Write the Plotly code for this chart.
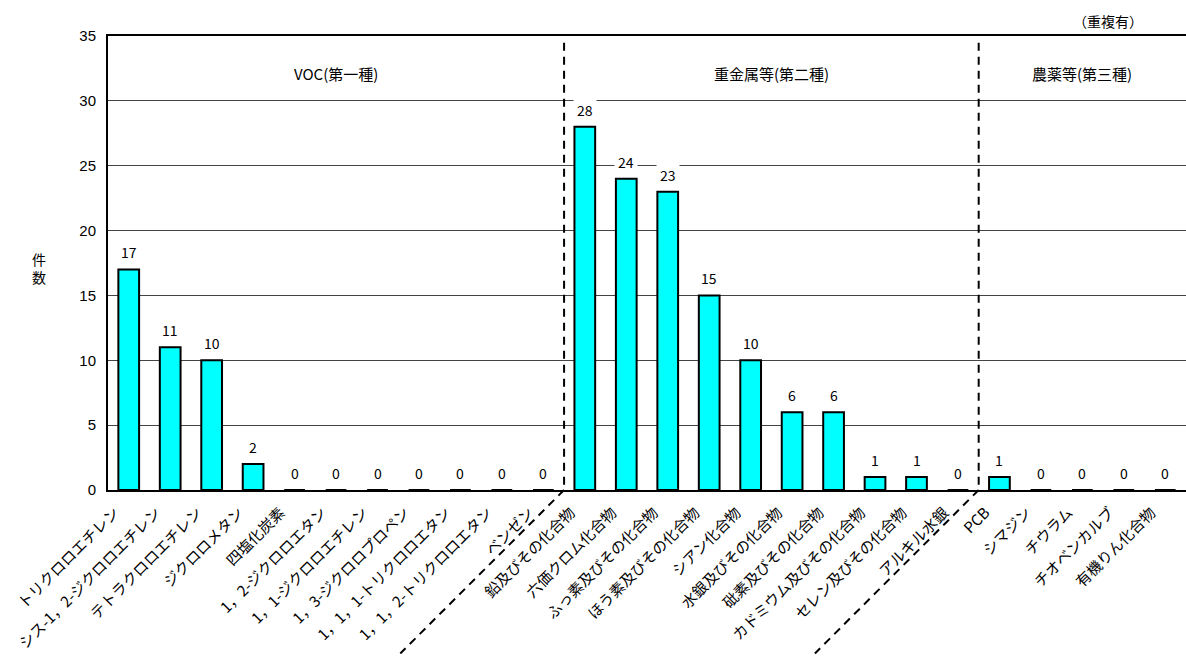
import plotly.graph_objects as go

# Substances by group (counts, duplicates included)
voc_names = ["トリクロロエチレン", "シス-1，2-ジクロロエチレン", "テトラクロロエチレン", "ジクロロメタン",
             "四塩化炭素", "1，2-ジクロロエタン", "1，1-ジクロロエチレン", "1，3-ジクロロプロペン",
             "1，1，1-トリクロロエタン", "1，1，2-トリクロロエタン", "ベンゼン"]
voc_counts = [17, 11, 10, 2, 0, 0, 0, 0, 0, 0, 0]

metal_names = ["鉛及びその化合物", "六価クロム化合物", "ふっ素及びその化合物", "ほう素及びその化合物",
               "シアン化合物", "水銀及びその化合物", "砒素及びその化合物", "カドミウム及びその化合物",
               "セレン及びその化合物", "アルキル水銀"]
metal_counts = [28, 24, 23, 15, 10, 6, 6, 1, 1, 0]

pest_names = ["PCB", "シマジン", "チウラム", "チオベンカルブ", "有機りん化合物"]
pest_counts = [1, 0, 0, 0, 0]

group_titles = ["VOC(第一種)", "重金属等(第二種)", "農薬等(第三種)"]
y_ticks = [0, 5, 10, 15, 20, 25, 30, 35]

names = voc_names + metal_names + pest_names
counts = voc_counts + metal_counts + pest_counts
n = len(names)

FONT = "Noto Sans CJK JP"

fig = go.Figure(go.Bar(
    x=list(range(n)), y=counts, width=0.5,
    marker=dict(color="#00FFFF", line=dict(color="black", width=2)),
    hoverinfo="x+y",
))

# value labels on a white box so they interrupt the gridlines
for i, v in enumerate(counts):
    fig.add_annotation(x=i, y=v, text=str(v), showarrow=False, yanchor="middle",
                       yshift=17, bgcolor="white", borderpad=3,
                       font=dict(family=FONT, size=14, color="black"))

# group separators: dashed verticals continuing diagonally through the labels
sizes = [len(voc_names), len(metal_names), len(pest_names)]
bounds = [sizes[0] - 0.5, sizes[0] + sizes[1] - 0.5]
for b in bounds:
    fig.add_shape(type="line", xref="x", yref="paper", x0=b, x1=b, y0=0.985, y1=0,
                  line=dict(color="black", width=2, dash="8px,6px"))
    fig.add_shape(type="line", xref="x", yref="paper", x0=b, x1=b - 3.95, y0=0, y1=-0.36,
                  line=dict(color="black", width=2, dash="8px,6px"))

# group titles
edges = [-0.5, bounds[0], bounds[1], n - 0.5]
for k, t in enumerate(group_titles):
    fig.add_annotation(x=(edges[k] + edges[k + 1]) / 2, y=32.1, text=t, showarrow=False,
                       font=dict(family=FONT, size=15, color="black"))

fig.add_annotation(xref="paper", yref="paper", x=0.928, y=1.0, xanchor="center",
                   yanchor="middle", yshift=15, text="（重複有）",
                   showarrow=False, font=dict(family=FONT, size=14, color="black"))
fig.add_annotation(xref="paper", yref="paper", x=-0.072, y=0.49, text="件<br>数",
                   showarrow=False, font=dict(family=FONT, size=14, color="black"))

fig.update_layout(
    width=1186, height=657,
    margin=dict(l=108, r=0, t=36, b=167),
    paper_bgcolor="white", plot_bgcolor="white",
    showlegend=False, bargap=0.5,
    font=dict(family=FONT, size=14, color="black"),
)
fig.update_xaxes(
    range=[-0.5, n - 0.5], tickmode="array", tickvals=list(range(n)), ticktext=names,
    tickangle=-45, showgrid=False, zeroline=False,
    showline=True, linecolor="black", linewidth=2, mirror=True,
    ticks="", tickfont=dict(family=FONT, size=15, color="black"),
    ticklabelshift=-14, ticklabelstandoff=6,
)
fig.update_yaxes(
    range=[0, 35], tickmode="array", tickvals=y_ticks,
    showgrid=True, gridcolor="#444444", gridwidth=1, zeroline=False,
    showline=True, linecolor="black", linewidth=2,
    ticks="", tickfont=dict(family="Liberation Sans", size=15, color="black"),
    ticklabelstandoff=7,
)

fig.write_html("out.html")
